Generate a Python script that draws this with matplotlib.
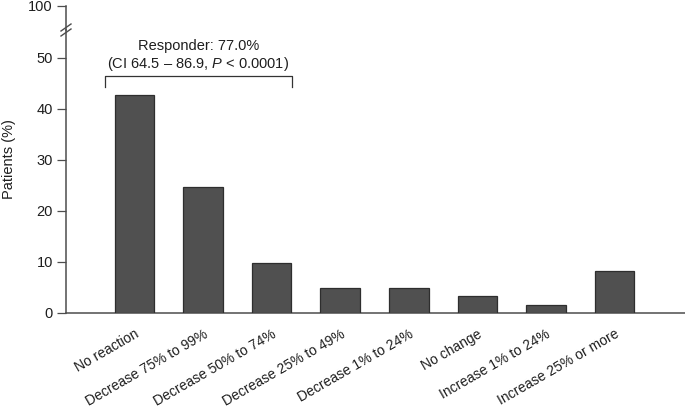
import matplotlib
matplotlib.use("Agg")
import matplotlib.pyplot as plt
from matplotlib.lines import Line2D

plt.rcParams['font.family'] = ['Liberation Sans', 'DejaVu Sans']
plt.rcParams['mathtext.fontset'] = 'custom'
plt.rcParams['mathtext.rm'] = 'Liberation Sans'
plt.rcParams['mathtext.it'] = 'Liberation Sans:italic'

categories = ["No reaction", "Decrease 75% to 99%", "Decrease 50% to 74%",
              "Decrease 25% to 49%", "Decrease 1% to 24%", "No change",
              "Increase 1% to 24%", "Increase 25% or more"]
values = [42.6, 24.6, 9.8, 4.9, 4.9, 3.3, 1.6, 8.2]
yticks = [0, 10, 20, 30, 40, 50]
top_tick = [100]
bracket_text = "Responder: 77.0%"
bracket_text2 = "(CI 64.5 \u2013 86.9, $\\it{P}$ < 0.0001)"

W, H = 685, 409
fig = plt.figure(figsize=(W/100, H/100), dpi=100)

def fx(px): return px / W
def fy(py): return 1 - py / H

axc = '#4d4d4d'
txtc = '#1e1e1e'
fs = 10.5

# main axes
ax = fig.add_axes([fx(66), fy(313), 1 - fx(66), fy(30) - fy(313)])
x = list(range(len(categories)))
ax.bar(x, values, width=0.577, color='#505050', edgecolor='#2e2e2e', linewidth=0.9, zorder=3)
ax.set_xlim(-1.0, 8.03)
ax.set_ylim(0, 55.4)
ax.set_yticks(yticks)
ax.set_yticklabels([str(t) for t in yticks], fontsize=fs, color=txtc)
ax.set_xticks(x)
ax.set_xticklabels(categories, rotation=30, ha='right', rotation_mode='anchor', fontsize=10, color=txtc)
ax.tick_params(axis='x', length=0, pad=10)
ax.tick_params(axis='y', length=6.5, width=0.9, color=axc, pad=3)
for s in ['top', 'right']:
    ax.spines[s].set_visible(False)
for s in ['left', 'bottom']:
    ax.spines[s].set_color(axc)
    ax.spines[s].set_linewidth(1.1)
ax.patch.set_alpha(0)

# bracket
bx0, bx1 = -0.43, 2.29
by, byt = 46.4, 44.3
ax.plot([bx0, bx0, bx1, bx1], [byt, by, by, byt], color='#333333', lw=0.9, clip_on=False)
ax.text((bx0 + bx1) / 2, 52.2, bracket_text, ha='center', va='center', fontsize=fs, color=txtc)
ax.text((bx0 + bx1) / 2, 48.7, bracket_text2, ha='center', va='center', fontsize=fs, color=txtc)

# top (broken) axes
ax2 = fig.add_axes([fx(66), fy(30), 1 - fx(66), fy(6) - fy(30)])
ax2.set_ylim(95, 100)
ax2.set_yticks(top_tick)
ax2.set_yticklabels([str(t) for t in top_tick], fontsize=fs, color=txtc)
ax2.set_xticks([])
ax2.tick_params(axis='y', length=6.5, width=0.9, color=axc, pad=3)
for s in ['top', 'right', 'bottom']:
    ax2.spines[s].set_visible(False)
ax2.spines['left'].set_color(axc)
ax2.spines['left'].set_linewidth(1.1)
ax2.patch.set_alpha(0)

# break marks
for off in (0, 5):
    fig.add_artist(Line2D([fx(61), fx(71)], [fy(31 + off), fy(24 + off)],
                          color=axc, lw=1.0, transform=fig.transFigure))

fig.text(fx(9), fy(159), "Patients (%)", rotation=90, ha='center', va='center', fontsize=fs, color=txtc)

fig.savefig("out.png", dpi=100)
